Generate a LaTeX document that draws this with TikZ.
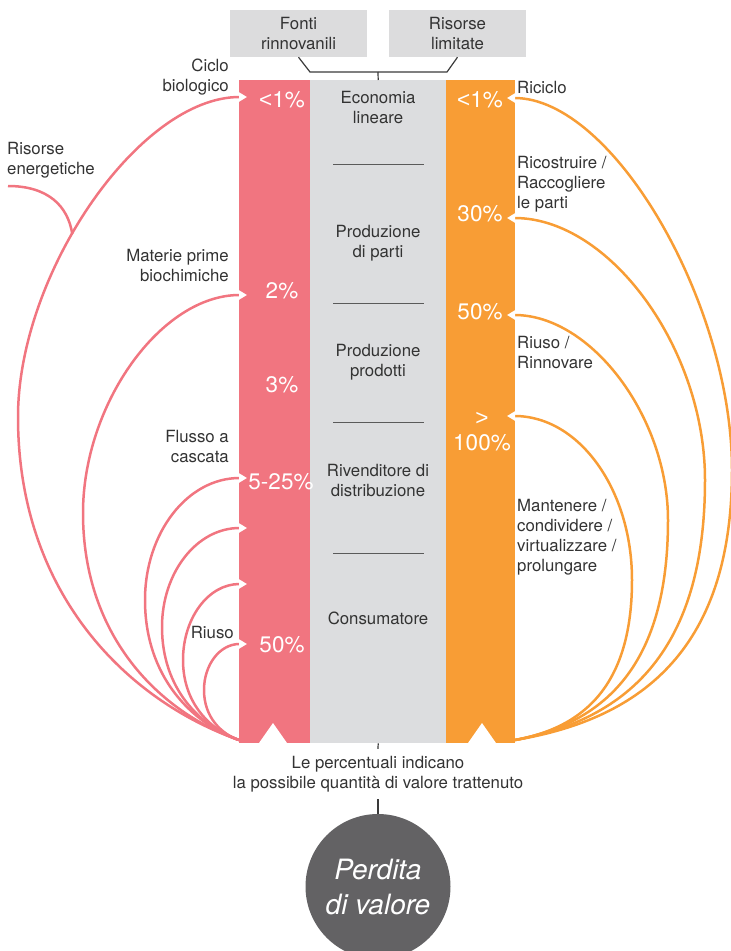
\documentclass[tikz,border=0pt]{standalone}
\usepackage{fontspec}
\setmainfont{TeX Gyre Heros}
\newfontfamily\lsans{Liberation Sans}
\usetikzlibrary{arrows.meta}
\definecolor{pinkc}{HTML}{F17580}
\definecolor{orangec}{HTML}{F89D35}
\definecolor{greyc}{HTML}{DCDDDF}
\definecolor{boxc}{HTML}{DCDCDD}
\definecolor{textc}{HTML}{333333}
\definecolor{darkc}{HTML}{3A3A3A}
\definecolor{circc}{HTML}{636264}
\definecolor{divc}{HTML}{5A5A5A}
\newcommand\leftloop[6]{%
 \pgfmathsetmacro\qw{239-#3}\pgfmathsetmacro\qt{#4-#2}\pgfmathsetmacro\qb{740-#4}%
 \pgfmathsetmacro\qax{239-0.5*\qw}\pgfmathsetmacro\qay{740-0.12*\qb}%
 \pgfmathsetmacro\qby{#4+0.55*\qb}%
 \pgfmathsetmacro\qcy{#4-#5*\qt}\pgfmathsetmacro\qdx{239-#5*\qw}%
 \draw[pinkline] (pb) .. controls (\qax,\qay) and (#3,\qby) .. (#3,#4) .. controls (#3,\qcy) and (\qdx,#2) .. (#1) #6;}
\newcommand\rightloop[5]{%
 \pgfmathsetmacro\qw{#3-515}\pgfmathsetmacro\qt{#4-#2}\pgfmathsetmacro\qb{740-#4}%
 \pgfmathsetmacro\qax{515+0.6*\qw}\pgfmathsetmacro\qay{740-0.08*\qb}%
 \pgfmathsetmacro\qby{#4+0.65*\qb}%
 \pgfmathsetmacro\qcy{#4-#5*\qt}\pgfmathsetmacro\qdx{515+#5*\qw}%
 \draw[orangeline] (ob) .. controls (\qax,\qay) and (#3,\qby) .. (#3,#4) .. controls (#3,\qcy) and (\qdx,#2) .. (#1);}
\begin{document}
\begin{tikzpicture}[x=1pt,y=-1pt,
  lbl/.style={font=\fontsize{16.8}{20}\selectfont, text=textc, inner sep=0pt},
  pct/.style={font=\fontsize{22.5}{25}\selectfont, text=white, inner sep=0pt, align=center},
  topbox/.style={fill=boxc, minimum width=137pt, minimum height=47pt, inner sep=0pt, align=center, font=\fontsize{16.8}{20}\selectfont, text=textc},
  colbox/.style={minimum height=663pt, inner sep=0pt, anchor=north west},
  dk/.style={draw=darkc, line width=1.2pt},
  divl/.style={draw=divc, line width=1pt},
  pinkplain/.style={draw=pinkc, line width=2.5pt},
  pinkline/.style={pinkplain, -{Triangle[length=8pt,width=9pt,color=white]}},
  orangeline/.style={draw=orangec, line width=2.5pt, -{Triangle[length=8pt,width=9pt,color=white]}}]
\useasboundingbox (0,0) rectangle (731,951);
% columns
\node[colbox, fill=pinkc, minimum width=71pt] (pcol) at (239,80) {};
\node[colbox, fill=greyc, minimum width=136pt] (gcol) at (310,80) {};
\node[colbox, fill=orangec, minimum width=69pt] (ocol) at (446,80) {};
% top boxes
\node[topbox] (fr) at (298.5,33.5) {Fonti\\rinnovanili};
\node[topbox] (rl) at (457.5,33.5) {Risorse\\limitate};
\coordinate (bl) at (310,72);
\coordinate (brr) at (447,72);
\coordinate (bm) at (378,72);
\draw[dk] (fr.south) -- (bl) -- (brr) -- (rl.south);
\draw[dk] (bm) -- (gcol.north);
% bottom triangles
\fill[white] (259,743) -- (273,723) -- (287,743) -- cycle;
\fill[white] (468,743) -- (482,723) -- (496,743) -- cycle;
% middle texts
\node[lbl, align=center] (el) at (378,107) {Economia\\lineare};
\node[lbl, align=center] (pp) at (378,243) {Produzione\\di parti};
\node[lbl, align=center] (pr) at (378,362) {Produzione\\prodotti};
\node[lbl, align=center] (rd) at (378,480) {Rivenditore di\\distribuzione};
\node[lbl, align=center] (cs) at (378,618) {Consumatore};
\draw[divl] (333,164) -- (424,164);
\draw[divl] (333,303) -- (424,303);
\draw[divl] (333,422) -- (424,422);
\draw[divl] (333,553) -- (424,553);
% percentages
\node[pct] (pa) at (282,100) {{\lsans<}1\%};
\node[pct] (pbb) at (282,291) {2\%};
\node[pct] (pc) at (282,385) {3\%};
\node[pct] (pd) at (281,482) {5-25\%};
\node[pct] (pe) at (282,645) {50\%};
\node[pct] (oa) at (480,100) {{\lsans<}1\%};
\node[pct] (obb) at (480,214) {30\%};
\node[pct] (oc) at (480,312) {50\%};
\node[pct] (od) at (482,432) {{\lsans>}\\100\%};
% labels
\node[lbl, align=right, anchor=east] (cb) at (229,77) {Ciclo\\biologico};
\node[lbl, align=left, anchor=west] (ren) at (7,160) {Risorse\\energetiche};
\node[lbl, align=right, anchor=east] (mp) at (229,265) {Materie prime\\biochimiche};
\node[lbl, align=right, anchor=east] (fc) at (229,446) {Flusso a\\cascata};
\node[lbl, anchor=east] (ri) at (234,632) {Riuso};
\node[lbl, anchor=west] (rc) at (517,87) {Riciclo};
\node[lbl, align=left, anchor=west] (rp) at (517,184) {Ricostruire /\\Raccogliere\\le parti};
\node[lbl, align=left, anchor=west] (rr) at (517,352) {Riuso /\\Rinnovare};
\node[lbl, align=left, anchor=west] (mc) at (517,537) {Mantenere /\\condividere /\\virtualizzare /\\prolungare};
% connectors left
\coordinate (pb) at (239,740);
\coordinate (ob) at (515,740);
\coordinate (p1) at (247,97);
\coordinate (p2) at (247,295);
\coordinate (p3) at (247,478);
\coordinate (p4) at (247,528);
\coordinate (p5) at (247,584);
\coordinate (p6) at (247,644);
\leftloop{p1}{97}{18}{417}{0.45}{coordinate[pos=0.42] (jn)}
\leftloop{p2}{295}{83}{513}{0.5}{}
\leftloop{p3}{478}{145}{600}{0.55}{}
\leftloop{p4}{528}{162}{627}{0.55}{}
\leftloop{p5}{584}{183}{660}{0.55}{}
\leftloop{p6}{644}{204}{690}{0.55}{}
\coordinate (re) at (8,186);
\draw[pinkplain] (re) .. controls (48,186) and (68,206) .. (jn);
% connectors right
\coordinate (o1) at (507,98);
\coordinate (o2) at (507,218);
\coordinate (o3) at (507,315);
\coordinate (o4) at (507,416);
\rightloop{o1}{98}{732}{470}{0.45}
\rightloop{o2}{218}{705}{480}{0.5}
\rightloop{o3}{315}{668}{520}{0.5}
\rightloop{o4}{416}{632}{580}{0.55}
% bottom
\node[lbl, align=center, minimum height=50pt] (note) at (378,774) {Le percentuali indicano\\la possibile quantità di valore trattenuto};
\node[circle, fill=circc, minimum size=145pt, inner sep=0pt, text=white, align=center, font=\fontsize{28}{35}\selectfont\itshape] (pv) at (378,886.5) {Perdita\\di valore};
\draw[dk] (gcol.south) -- (note.north);
\draw[dk] (note.south) -- (pv.north);
\end{tikzpicture}
\end{document}
